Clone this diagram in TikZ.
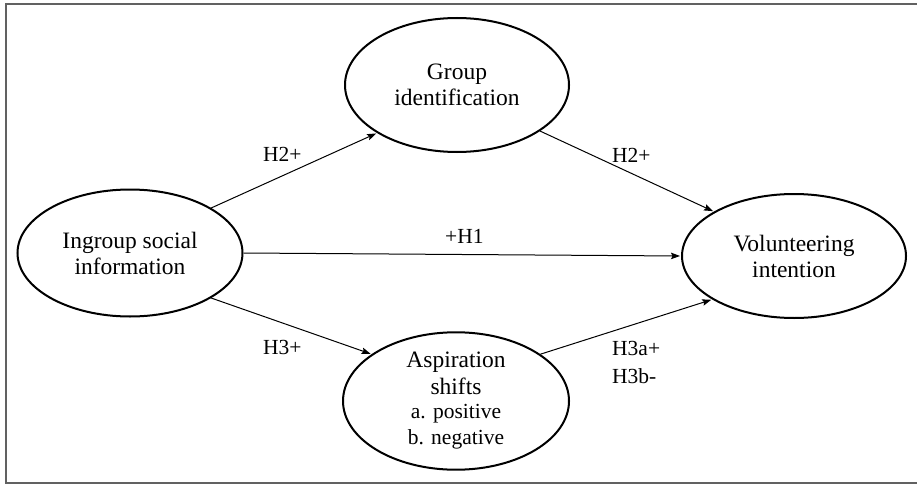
\documentclass[tikz,border=0pt]{standalone}
\usepackage{fontspec}
\setmainfont{Liberation Serif}
\usetikzlibrary{arrows.meta,shapes.geometric}
\begin{document}
\begin{tikzpicture}[x=1pt,y=-1pt,
  construct/.style={ellipse,draw,line width=2pt,inner sep=0pt,align=center,
    font=\fontsize{23.5}{26}\selectfont},
  link/.style={line width=1pt,-{Stealth[length=9pt,width=6.5pt,inset=1.5pt]},shorten >=1pt},
  hyp/.style={anchor=base west,inner sep=0pt,font=\fontsize{21.5}{28}\selectfont}]
\useasboundingbox (0,0) rectangle (917,484);
\draw[line width=2pt,color=black!62] (925,4.5) -- (5.5,4.5) -- (5.5,482.5) -- (925,482.5);
\node[construct,minimum width=225pt,minimum height=127pt] (L) at (130,253) {Ingroup social\\information};
\node[construct,minimum width=224pt,minimum height=134pt] (T) at (457,85) {Group\\identification};
\node[construct,minimum width=224pt,minimum height=124pt] (R) at (794,256) {Volunteering\\intention};
\node[construct,minimum width=226pt,minimum height=128pt] (B) at (456,401)
  {Aspiration\\[1pt]shifts\\[-2pt]{\fontsize{21.5}{25}\selectfont a. positive}\\{\fontsize{21.5}{25}\selectfont b. negative}};
\draw[link] (L.29) -- (T.211.5);
\draw[link] (T.331) -- (R.151);
\draw[link] (L.0) -- (R.180);
\draw[link] (L.331.5) -- (B.151);
\draw[link] (B.29.5) -- (R.208.5);
\node[hyp] (h2a) at (263,161) {H2+};
\node[hyp] (h2b) at (612,162) {H2+};
\node[hyp] (h1) at (445,243) {+H1};
\node[hyp] (h3) at (263,354) {H3+};
\node[hyp] (h3a) at (612,355) {H3a+};
\node[hyp] (h3b) at (612,383) {H3b-};
\end{tikzpicture}
\end{document}
